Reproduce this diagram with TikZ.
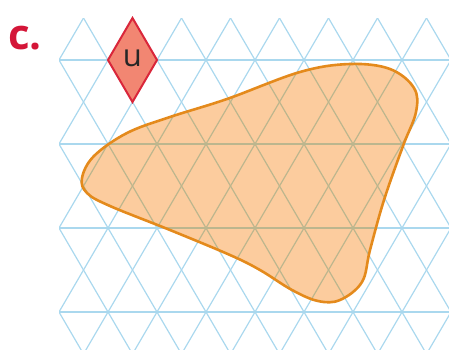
\documentclass[tikz,border=0pt]{standalone}
\usepackage{fontspec}
\setmainfont{Open Sans}
\newfontfamily\labelfont{Open Sans}
\definecolor{gridblue}{RGB}{170,216,238}
\definecolor{gridin}{RGB}{188,182,142}
\definecolor{blobfill}{RGB}{252,204,158}
\definecolor{blobline}{RGB}{228,138,28}
\definecolor{dmfill}{RGB}{242,134,114}
\definecolor{dmline}{RGB}{218,38,58}
\definecolor{labred}{RGB}{212,22,56}
\tikzset{
  gridline/.style={line width=1.2pt},
  blobpath/.style={line width=2.6pt, draw=blobline, line join=round},
}
\begin{document}
\begin{tikzpicture}[x=1pt,y=-1pt]
\useasboundingbox (0,0) rectangle (449,349);
% grid
\def\gridlines{%
  \foreach \k in {-8,...,16}{
    \draw (83.5+49*\k,18) -- ++(196,336);
    \draw (83.5+49*\k,18) -- ++(-196,336);
  }
  \foreach \y in {60,144,228,312}{
    \draw (59,\y) -- (449,\y);
  }}
\begin{scope}[gridline, draw=gridblue]
  \clip (59,18) rectangle (449,349);
  \gridlines
\end{scope}
% blob
\def\blob{plot[smooth cycle, tension=0.6] coordinates {
  (82,178) (94,156) (127,133) (170,117) (227,99) (300,72) (350,64) (390,69)
  (414,88) (416,112) (403,146) (384,200) (370,250) (362,282) (340,300) (318,301)
  (292,290) (260,270) (230,255) (170,230) (110,206) (87,193)}}
\fill[blobfill] \blob;
\begin{scope}[gridline, draw=gridin]
  \clip \blob;
  \clip (59,18) rectangle (449,349);
  \gridlines
\end{scope}
\draw[blobpath] \blob;
% diamond
\coordinate (dt) at (132.5,18);
\coordinate (dl) at (108,60);
\coordinate (db) at (132.5,102);
\coordinate (dr) at (157,60);
\draw[fill=dmfill, draw=dmline, line width=2pt, line join=miter] (dt) -- (dl) -- (db) -- (dr) -- cycle;
\node[font=\labelfont\fontsize{31}{31}\selectfont, text=black!85, inner sep=0pt] (u) at (132.5,58) {u};
% label
\node[font=\labelfont\bfseries\fontsize{42}{42}\selectfont, text=labred, inner sep=0pt, anchor=base west] (lab) at (8,49) {c.};
\end{tikzpicture}
\end{document}
